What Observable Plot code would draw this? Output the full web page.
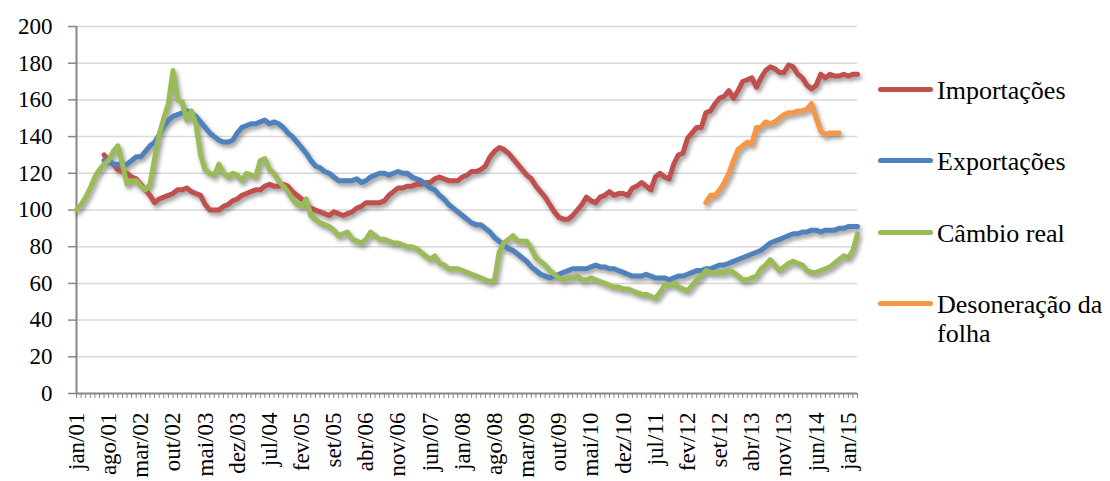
<!DOCTYPE html>
<html>
<head>
<meta charset="utf-8">
<script src="https://cdn.jsdelivr.net/npm/d3@7"></script>
<script src="https://cdn.jsdelivr.net/npm/@observablehq/plot@0.6"></script>
<style>
  body { margin: 0; background: #fff; }
  #chart { position: relative; width: 1110px; height: 481px; font-family: "Liberation Serif", "Times New Roman", serif; }
  #chart svg { position: absolute; left: 0; top: 0; }
  #chart svg, #chart svg text { font-family: "Liberation Serif", "Times New Roman", serif !important; }
  .legend-item { position: absolute; left: 878px; }
  .legend-swatch { position: absolute; left: 0; width: 55px; height: 5px; border-radius: 3px; }
  .legend-text { position: absolute; left: 59px; width: 174px; font-size: 26px; line-height: 29px; color: #000; }
</style>
</head>
<body>
<div id="chart"></div>
<script>
// Month categories: jan/01 .. mar/15
const monthNames = ["jan", "fev", "mar", "abr", "mai", "jun", "jul", "ago", "set", "out", "nov", "dez"];
const firstYear = 2001;
const monthCount = 171;
const months = d3.range(monthCount).map(i =>
  `${monthNames[i % 12]}/${String((firstYear + Math.floor(i / 12)) % 100).padStart(2, "0")}`);

// Labelled ticks on the category axis
const tickLabels = ["jan/01", "ago/01", "mar/02", "out/02", "mai/03", "dez/03", "jul/04", "fev/05",
  "set/05", "abr/06", "nov/06", "jun/07", "jan/08", "ago/08", "mar/09", "out/09", "mai/10",
  "dez/10", "jul/11", "fev/12", "set/12", "abr/13", "nov/13", "jun/14", "jan/15"];
const yTicks = [0, 20, 40, 60, 80, 100, 120, 140, 160, 180, 200];

// Series (index numbers), each with the month it starts at
const seriesNames = ["Importações", "Exportações", "Câmbio real", "Desoneração da folha"];
const seriesColors = ["#C0504D", "#4F81BD", "#9BBB59", "#F79646"];
const seriesStart = ["jul/01", "jul/01", "jan/01", "jun/12"];

const importacoes = [
  130, 127, 125, 122, 121, 120,
  118, 117, 114, 111, 108, 104, 106, 107, 108, 109, 111, 111,
  112, 110, 109, 108, 103, 100, 100, 100, 102, 103, 105, 106,
  108, 109, 110, 111, 111, 113, 114, 113, 113, 114, 113, 110,
  108, 106, 103, 101, 100, 99, 98, 97, 99, 98, 97, 98,
  99, 101, 102, 104, 104, 104, 104, 105, 108, 110, 112, 112,
  113, 113, 114, 114, 115, 115, 117, 118, 117, 116, 116, 116,
  118, 119, 121, 121, 122, 124, 129, 132, 134, 133, 131, 128,
  125, 122, 119, 117, 113, 110, 107, 103, 99, 96, 95, 95,
  97, 100, 103, 107, 105, 104, 107, 108, 110, 108, 109, 109,
  108, 112, 113, 115, 113, 111, 118, 120, 118, 117, 125, 130,
  131, 139, 142, 145, 145, 153, 154, 158, 161, 162, 165, 161,
  165, 170, 171, 172, 167, 172, 176, 178, 177, 175, 175, 179,
  178, 174, 172, 168, 166, 168, 174, 172, 174, 173, 173, 174,
  173, 174, 174
];

const exportacoes = [
  127, 126, 125, 125, 124, 125,
  127, 129, 129, 132, 135, 137, 141, 146, 149, 151, 152, 153,
  154, 153, 151, 148, 145, 142, 140, 138, 137, 137, 138, 142,
  145, 146, 147, 147, 148, 149, 147, 148, 147, 145, 142, 140,
  137, 134, 131, 127, 124, 123, 121, 120, 118, 116, 116, 116,
  116, 117, 115, 116, 118, 119, 120, 120, 119, 120, 121, 120,
  120, 118, 117, 116, 114, 112, 111, 108, 106, 103, 101, 99,
  97, 95, 93, 92, 92, 90, 88, 85, 83, 81, 79, 78,
  76, 74, 72, 69, 67, 65, 64, 63, 64, 65, 66, 67,
  68, 68, 68, 68, 69, 70, 69, 69, 68, 68, 67, 66,
  65, 64, 64, 64, 65, 64, 63, 63, 63, 62, 63, 64,
  64, 65, 66, 67, 67, 68, 68, 69, 70, 70, 71, 72,
  73, 74, 75, 76, 77, 78, 80, 82, 83, 84, 85, 86,
  87, 87, 88, 88, 89, 89, 88, 89, 89, 89, 90, 90,
  91, 91, 91
];

const cambioReal = [
  100, 103, 107, 112, 118, 122, 125, 127, 132, 135, 125, 114,
  116, 116, 113, 111, 114, 128, 141, 150, 158, 176, 160, 159,
  149, 154, 147, 130, 122, 120, 119, 125, 120, 118, 120, 119,
  116, 120, 119, 118, 127, 128, 122, 120, 116, 113, 110, 106,
  103, 102, 106, 97, 95, 93, 92, 91, 89, 86, 87, 88,
  84, 83, 82, 84, 88, 86, 84, 84, 83, 82, 82, 81,
  80, 80, 79, 77, 75, 73, 75, 71, 70, 68, 68, 68,
  67, 66, 65, 64, 63, 62, 61, 62, 77, 82, 84, 86,
  83, 83, 83, 79, 74, 72, 70, 67, 65, 63, 62, 63,
  63, 64, 62, 62, 63, 62, 61, 60, 59, 58, 58, 57,
  57, 56, 55, 54, 54, 53, 52, 55, 59, 59, 60, 58,
  57, 56, 59, 62, 64, 67, 66, 66, 66, 66, 67, 66,
  64, 62, 62, 63, 64, 68, 70, 73, 70, 67, 69, 71,
  72, 71, 70, 67, 66, 66, 67, 68, 69, 71, 73, 75,
  74, 78, 87
];

const desoneracao = [
  104, 108, 108, 111, 115, 120, 127,
  133, 135, 137, 136, 145, 145, 148, 147, 148, 150, 152, 153,
  153, 154, 154, 155, 158, 150, 143, 141, 142, 142, 142
];

const seriesValues = [importacoes, exportacoes, cambioReal, desoneracao];

// Long table for the line mark
const rows = [];
seriesValues.forEach((values, s) => {
  const start = months.indexOf(seriesStart[s]);
  values.forEach((v, i) => {
    if (v != null) rows.push({month: months[start + i], serie: seriesNames[s], value: v});
  });
});

const axisGray = "#868686";

const chart = Plot.plot({
  width: 870,
  height: 481,
  marginTop: 26,
  marginBottom: 88,
  marginLeft: 76,
  marginRight: 13,
  style: {fontFamily: "'Liberation Serif', 'Times New Roman', serif", fontSize: "23px", color: "#000", background: "transparent"},
  x: {type: "point", domain: months, padding: 0},
  y: {domain: [0, 200]},
  color: {domain: seriesNames, range: seriesColors},
  marks: [
    Plot.ruleY(yTicks.filter(d => d > 0), {stroke: "#d9d9d9", strokeWidth: 1.5}),
    Plot.axisY(yTicks, {tickSize: 8, tickPadding: 16, stroke: axisGray, strokeWidth: 1.5, fill: "#000", label: null}),
    Plot.axisX(months, {tickSize: 5, tickFormat: () => "", stroke: axisGray, strokeWidth: 1, label: null}),
    Plot.axisX(tickLabels, {tickSize: 0, tickPadding: 19, tickRotate: -90, fill: "#000", label: null}),
    Plot.ruleY([0], {stroke: axisGray, strokeWidth: 2}),
    Plot.ruleX([months[0]], {stroke: axisGray, strokeWidth: 2}),
    Plot.line(rows, {x: "month", y: "value", z: "serie", stroke: "serie", strokeWidth: 5,
      strokeLinejoin: "round", strokeLinecap: "round"})
  ]
});

// Soft drop shadow under the series lines
chart.querySelectorAll('g[aria-label="line"]').forEach(g => {
  g.style.filter = "drop-shadow(2px 3px 2px rgba(0,0,0,0.4))";
});

const root = document.getElementById("chart");
root.appendChild(chart);

// Legend at the right
const legendY = [89, 160, 232, 303];
seriesNames.forEach((name, i) => {
  const item = document.createElement("div");
  item.className = "legend-item";
  item.style.top = `${legendY[i]}px`;
  const sw = document.createElement("div");
  sw.className = "legend-swatch";
  sw.style.background = seriesColors[i];
  sw.style.top = "-2.5px";
  const tx = document.createElement("div");
  tx.className = "legend-text";
  tx.style.top = "-13px";
  tx.textContent = name;
  item.appendChild(sw);
  item.appendChild(tx);
  root.appendChild(item);
});
</script>
</body>
</html>
